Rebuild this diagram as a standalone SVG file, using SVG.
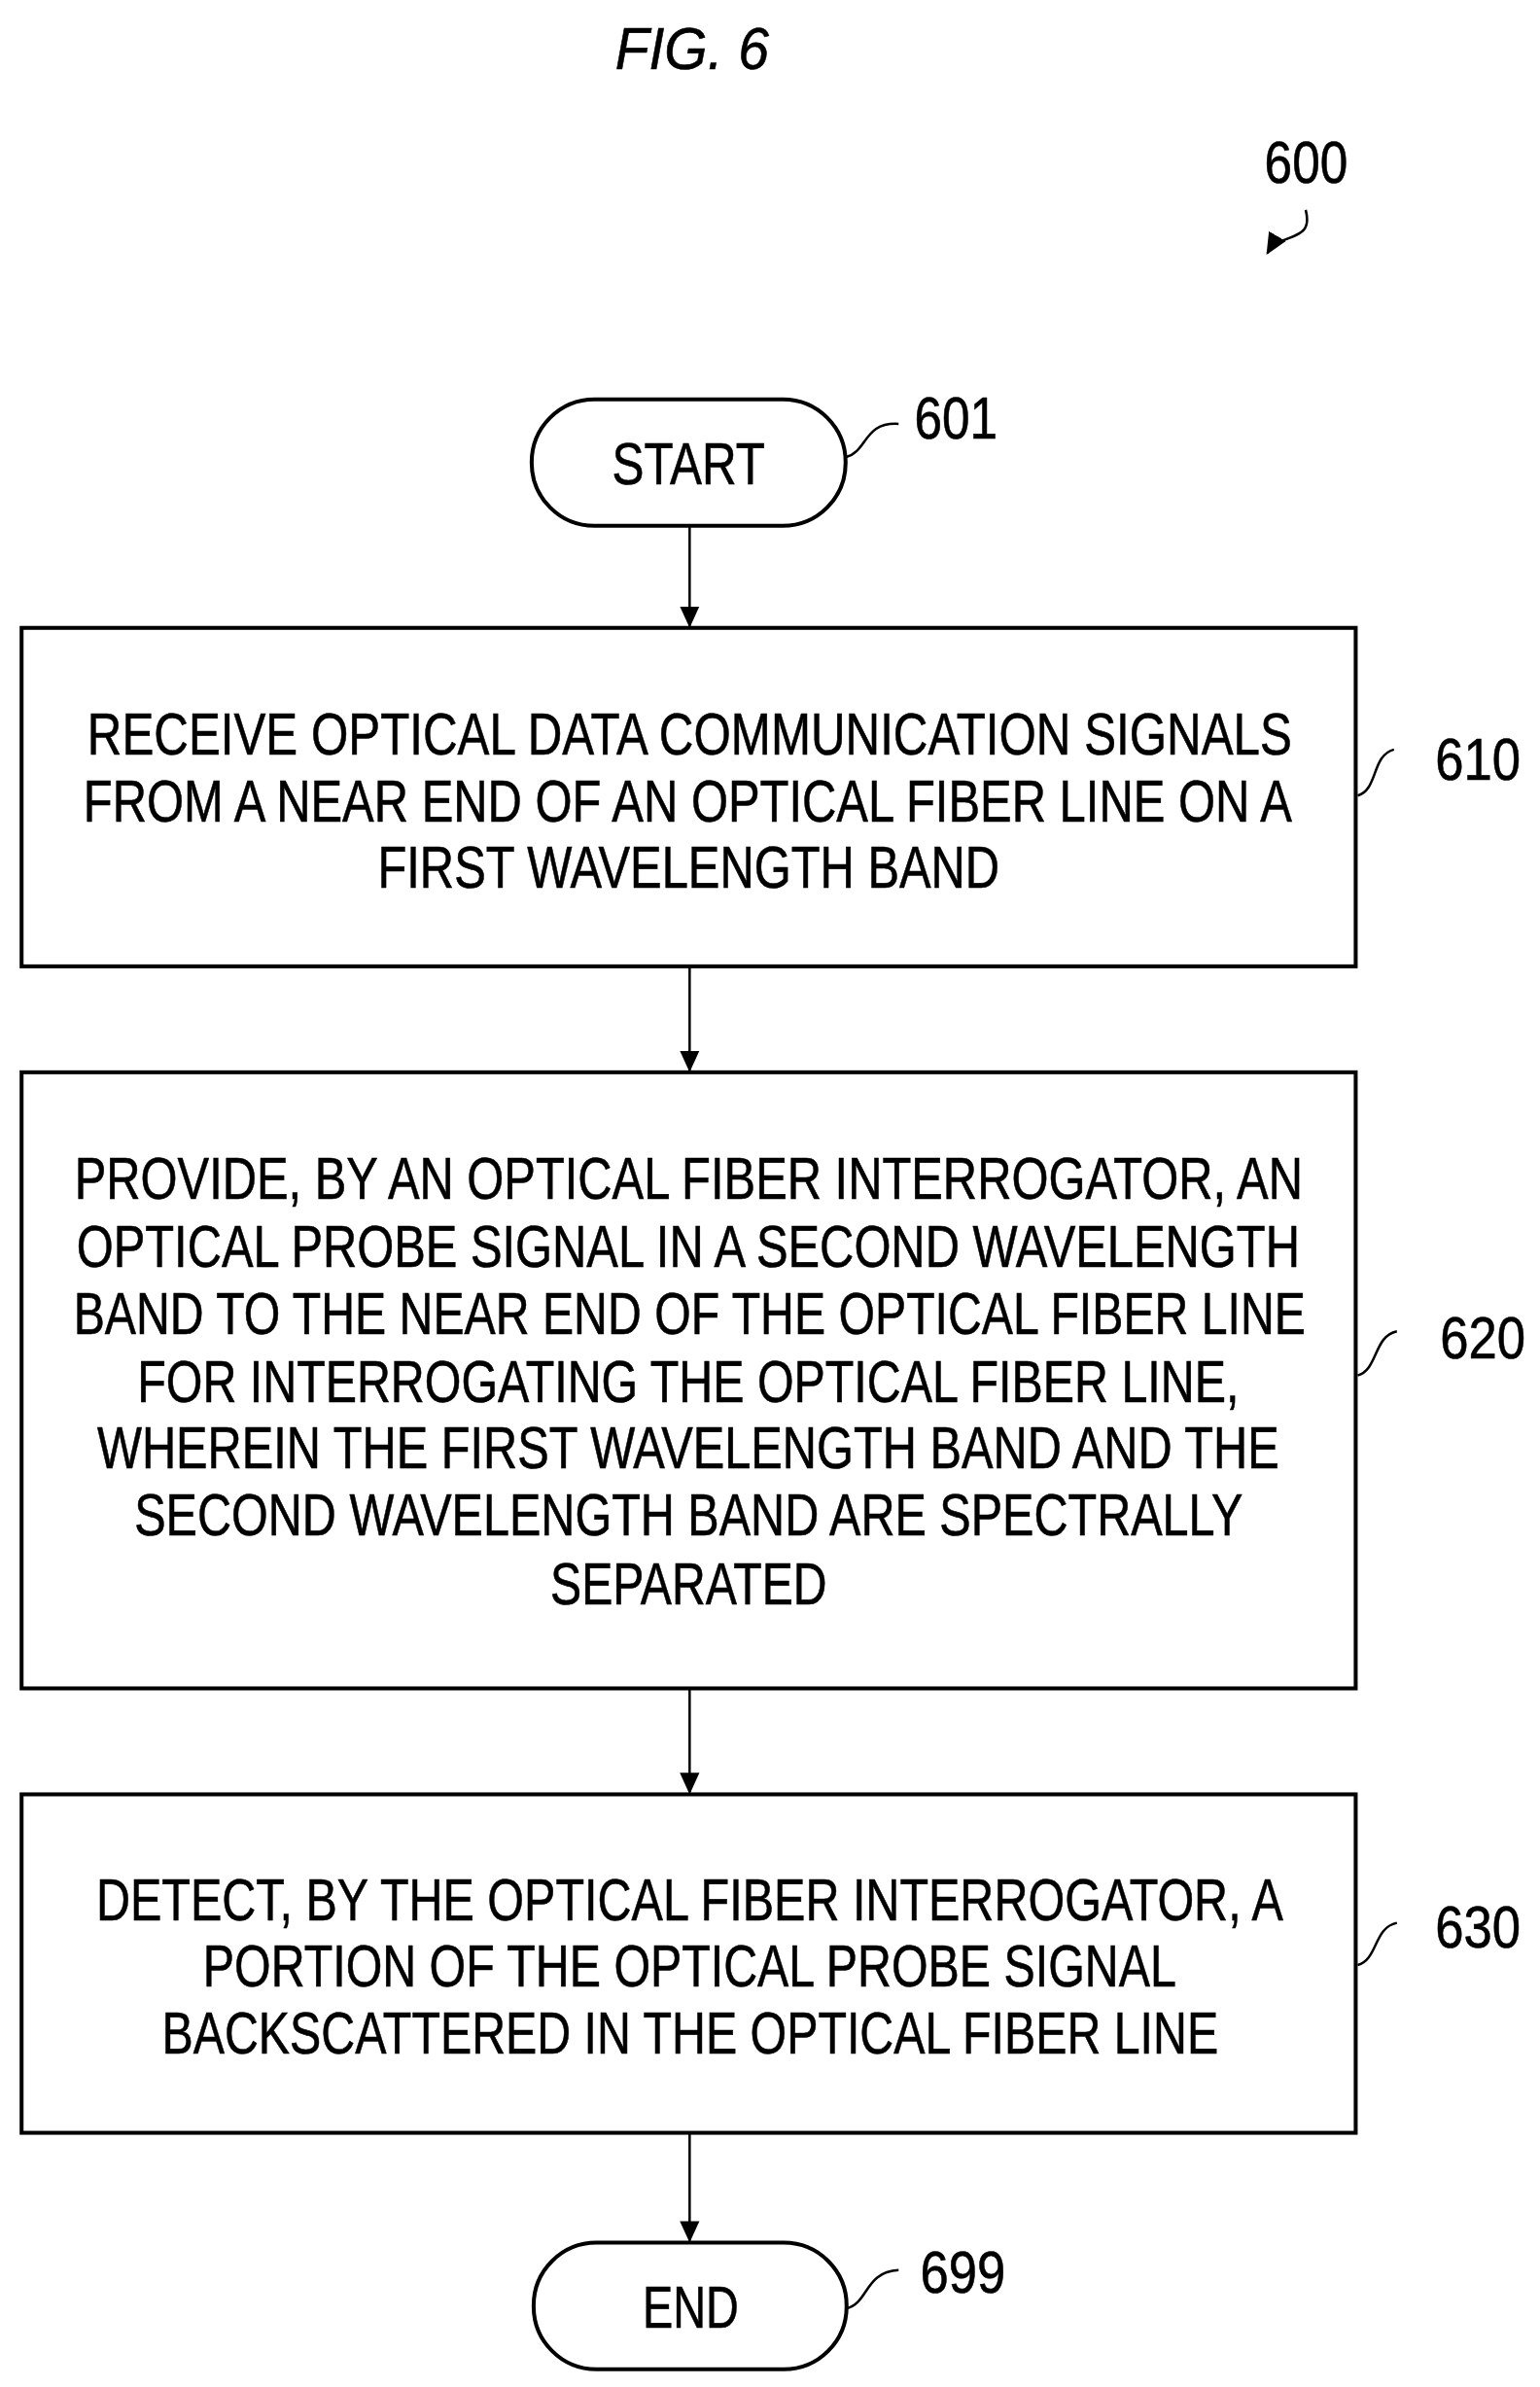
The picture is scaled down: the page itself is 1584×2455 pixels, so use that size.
<svg xmlns="http://www.w3.org/2000/svg" width="1584" height="2455" viewBox="0 0 1584 2455">
<defs>
<marker id="ah2" markerWidth="24" markerHeight="24" refX="20" refY="12" orient="auto" markerUnits="userSpaceOnUse" viewBox="0 0 24 24"><path d="M0,2 L22,12 L0,22 z" fill="#000"/></marker>
<style>
text{font-family:"Liberation Sans Narrow","Liberation Sans",Arial,sans-serif;font-size:61px;fill:#000;stroke:#000;stroke-width:0.6}
.box{fill:#fff;stroke:#000;stroke-width:4}
.ln{fill:none;stroke:#000;stroke-width:2.5}
.con{fill:none;stroke:#000;stroke-width:2.5}
</style>
</defs>
<rect width="1584" height="2455" fill="#fff"/>
<g transform="scale(1.009)">
<text x="627" y="70" font-style="italic" textLength="157" lengthAdjust="spacingAndGlyphs">FIG. 6</text>
<g id="ref600">
<text x="1289" y="186" textLength="85" lengthAdjust="spacingAndGlyphs">600</text>
<path class="ln" d="M1331,214 C1340,248 1305,236 1292,258" marker-end="url(#ah2)"/>
</g>
<g id="n601">
<rect class="box" x="542" y="407" width="320" height="129" rx="64" ry="64"/>
<text x="624" y="494" textLength="156" lengthAdjust="spacingAndGlyphs">START</text>
<path class="ln" d="M862,466 C885,460 880,430 916,432"/>
<text x="932" y="447" textLength="85" lengthAdjust="spacingAndGlyphs">601</text>
</g>
<g id="n610">
<rect class="box" x="22" y="640" width="1360" height="345"/>
<text x="89" y="769" textLength="1228" lengthAdjust="spacingAndGlyphs">RECEIVE OPTICAL DATA COMMUNICATION SIGNALS</text>
<text x="85" y="837" textLength="1232" lengthAdjust="spacingAndGlyphs">FROM A NEAR END OF AN OPTICAL FIBER LINE ON A</text>
<text x="385" y="905" textLength="634" lengthAdjust="spacingAndGlyphs">FIRST WAVELENGTH BAND</text>
<path class="ln" d="M1384,811 C1405,805 1398,770 1421,764"/>
<text x="1463" y="795" textLength="87" lengthAdjust="spacingAndGlyphs">610</text>
</g>
<g id="n620">
<rect class="box" x="22" y="1093" width="1360" height="628"/>
<text x="76" y="1222" textLength="1252" lengthAdjust="spacingAndGlyphs">PROVIDE, BY AN OPTICAL FIBER INTERROGATOR, AN</text>
<text x="78" y="1291" textLength="1247" lengthAdjust="spacingAndGlyphs">OPTICAL PROBE SIGNAL IN A SECOND WAVELENGTH</text>
<text x="75" y="1360" textLength="1256" lengthAdjust="spacingAndGlyphs">BAND TO THE NEAR END OF THE OPTICAL FIBER LINE</text>
<text x="140" y="1429" textLength="1123" lengthAdjust="spacingAndGlyphs">FOR INTERROGATING THE OPTICAL FIBER LINE,</text>
<text x="99" y="1497" textLength="1205" lengthAdjust="spacingAndGlyphs">WHEREIN THE FIRST WAVELENGTH BAND AND THE</text>
<text x="137" y="1565" textLength="1130" lengthAdjust="spacingAndGlyphs">SECOND WAVELENGTH BAND ARE SPECTRALLY</text>
<text x="561" y="1635" textLength="282" lengthAdjust="spacingAndGlyphs">SEPARATED</text>
<path class="ln" d="M1384,1402 C1405,1396 1400,1362 1424,1357"/>
<text x="1468" y="1385" textLength="87" lengthAdjust="spacingAndGlyphs">620</text>
</g>
<g id="n630">
<rect class="box" x="22" y="1829" width="1360" height="345"/>
<text x="98" y="1957" textLength="1210" lengthAdjust="spacingAndGlyphs">DETECT, BY THE OPTICAL FIBER INTERROGATOR, A</text>
<text x="207" y="2025" textLength="992" lengthAdjust="spacingAndGlyphs">PORTION OF THE OPTICAL PROBE SIGNAL</text>
<text x="165" y="2093" textLength="1077" lengthAdjust="spacingAndGlyphs">BACKSCATTERED IN THE OPTICAL FIBER LINE</text>
<path class="ln" d="M1384,2003 C1405,1997 1400,1965 1424,1960"/>
<text x="1463" y="1985" textLength="87" lengthAdjust="spacingAndGlyphs">630</text>
</g>
<g id="n699">
<rect class="box" x="544" y="2286" width="319" height="129" rx="64" ry="64"/>
<text x="655" y="2373" textLength="98" lengthAdjust="spacingAndGlyphs">END</text>
<path class="ln" d="M863,2353 C886,2347 881,2316 916,2314"/>
<text x="938" y="2337" textLength="87" lengthAdjust="spacingAndGlyphs">699</text>
</g>
<g id="connectors">
<line class="con" x1="703" y1="536" x2="703" y2="638" marker-end="url(#ah2)"/>
<line class="con" x1="703" y1="985" x2="703" y2="1091" marker-end="url(#ah2)"/>
<line class="con" x1="703" y1="1721" x2="703" y2="1827" marker-end="url(#ah2)"/>
<line class="con" x1="703" y1="2174" x2="703" y2="2284" marker-end="url(#ah2)"/>
</g>
</g>
</svg>
